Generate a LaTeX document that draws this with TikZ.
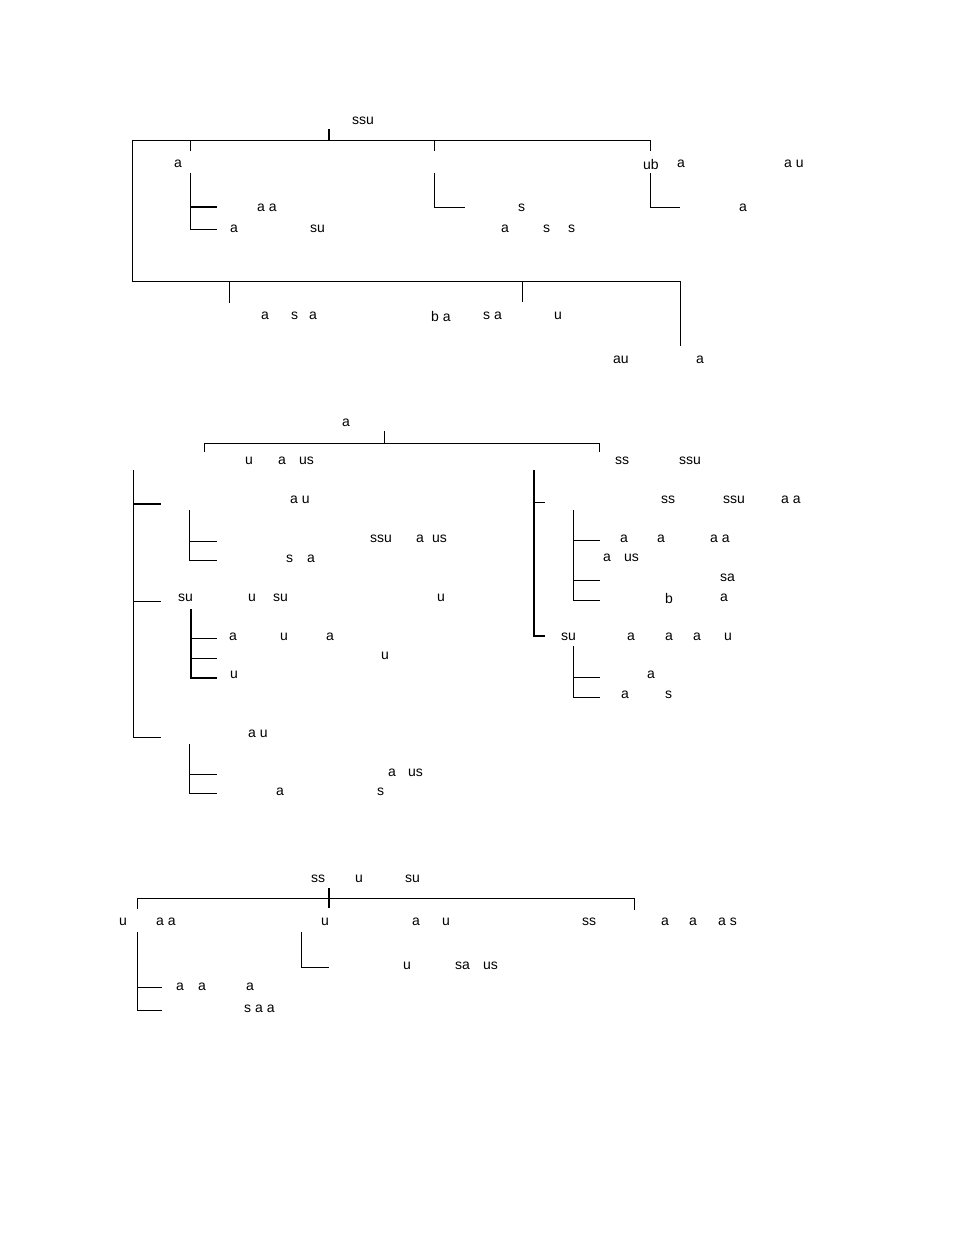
\documentclass[tikz,border=0pt]{standalone}
\usepackage{fontspec}
\setmainfont{Liberation Sans}
\begin{document}
\begin{tikzpicture}[x=1pt,y=-1pt,
    lbl/.style={anchor=west,inner sep=0pt,yshift=-1pt,font=\fontsize{14}{16}\selectfont},
    br/.style={line width=0.8pt},
    bk/.style={line width=1.6pt}]
    \useasboundingbox[fill=white] (0,0) rectangle (954,1235);
    % labels
    \foreach \x/\y/\s [count=\i] in {
      352/120/ssu, 174/163/a, 643/163/ub, 677/163/a, 784/163/a u,
      257/207/a a, 230/228/a, 310/228/su, 518/207/s, 501/228/a, 543/228/s, 568/228/s,
      739/207/a, 261/315/a, 291/315/s, 309/315/a, 431/315/b a, 483/315/s a, 554/315/u,
      613/359/au, 696/359/a,
      342/422/a, 245/460/u, 278/460/a, 299/460/us, 615/460/ss, 679/460/ssu,
      290/499/a u, 370/538/ssu, 416/538/a, 432/538/us, 286/558/s, 307/558/a,
      178/597/su, 248/597/u, 273/597/su, 437/597/u,
      229/636/a, 280/636/u, 326/636/a, 381/655/u, 230/674/u,
      248/733/a u, 388/772/a, 408/772/us, 276/791/a, 377/791/s,
      661/499/ss, 723/499/ssu, 781/499/a a, 620/538/a, 657/538/a, 710/538/a a,
      603/557/a, 624/557/us, 720/577/sa, 665/597/b, 720/597/a,
      561/636/su, 627/636/a, 665/636/a, 693/636/a, 724/636/u,
      647/674/a, 621/694/a, 665/694/s,
      311/878/ss, 355/878/u, 405/878/su,
      119/921/u, 156/921/a a, 321/921/u, 412/921/a, 442/921/u,
      582/921/ss, 661/921/a, 689/921/a, 718/921/a s,
      403/965/u, 455/965/sa, 483/965/us,
      176/986/a, 198/986/a, 246/986/a, 244/1008/s a a}
      \node[lbl] (t\i) at (\x,\y) {\s};
    % first tree
    \draw[bk] (329,129) -- (329,140);
    \draw[br] (132,281) -- (132,140) -- (650,140) -- (650,151);
    \draw[br] (190,140) -- (190,151) (434,140) -- (434,151);
    \draw[br] (190,173) -- (190,229) -- (217,229);
    \draw[bk] (190,207) -- (217,207);
    \draw[br] (434,173) -- (434,207) -- (465,207);
    \draw[br] (650,173) -- (650,207) -- (680,207);
    \draw[br] (132,281) -- (680,281) -- (680,346);
    \draw[br] (229,281) -- (229,303) (522,281) -- (522,302);
    % second tree
    \draw[br] (384,431) -- (384,443);
    \draw[br] (204,452) -- (204,443) -- (599,443) -- (599,452);
    \draw[br] (133,470) -- (133,737) -- (161,737) (133,601) -- (161,601);
    \draw[bk] (133,504) -- (161,504);
    \draw[br] (189,510) -- (189,560) -- (217,560) (189,541) -- (217,541);
    \draw[bk] (191,609) -- (191,678) -- (217,678);
    \draw[br] (191,638) -- (217,638) (191,658) -- (217,658);
    \draw[br] (189,744) -- (189,793) -- (217,793) (189,774) -- (217,774);
    \draw[bk] (534,470) -- (534,636) -- (545,636);
    \draw[br] (534,502) -- (545,502);
    \draw[br] (573,510) -- (573,600) -- (600,600) (573,540) -- (600,540) (573,580) -- (600,580);
    \draw[br] (573,646) -- (573,697) -- (600,697) (573,677) -- (600,677);
    % third tree
    \draw[bk] (329,888) -- (329,908);
    \draw[br] (137,909) -- (137,898) -- (634,898) -- (634,910);
    \draw[br] (301,932) -- (301,967) -- (329,967);
    \draw[br] (137,932) -- (137,1010) -- (162,1010) (137,987) -- (162,987);
\end{tikzpicture}
\end{document}
